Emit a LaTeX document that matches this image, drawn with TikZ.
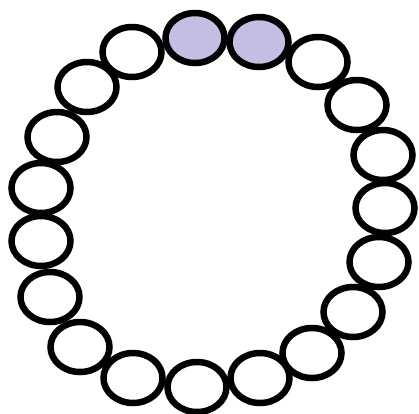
\documentclass[tikz,border=0pt]{standalone}
\usepackage{xcolor}
\usetikzlibrary{shapes.geometric}

\begin{document}
\begin{tikzpicture}[
    x=1pt, y=-1pt,
    bead/.style={ellipse, draw=black, line width=6.5pt, inner sep=0pt,
        minimum width=59pt, minimum height=50pt}
]
% Define colors
\definecolor{beadlilac}{RGB}{197,190,228}

\useasboundingbox (0,0) rectangle (419,413);

% Marked beads (top)
\node[bead, fill=beadlilac] (b1) at (195,38) {};
\node[bead, fill=beadlilac] (b2) at (259,42) {};

% Remaining beads, clockwise
\foreach \x/\y [count=\i from 3] in {318/62, 357/105, 383/155, 385/208,
    379/262, 353/312, 312/353, 260/378, 197/387, 133/378, 80/347,
    50/297, 41/241, 41/188, 57/137, 87/87, 132/52}
    \node[bead] (b\i) at (\x,\y) {};

\end{tikzpicture}
\end{document}
